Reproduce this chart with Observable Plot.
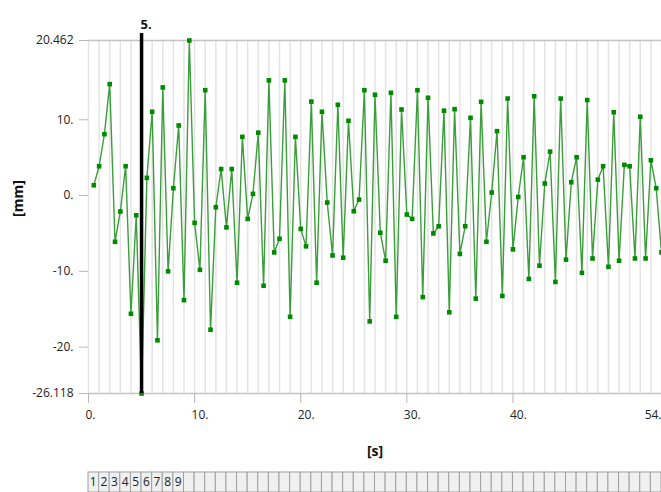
<!DOCTYPE html>
<html><head><meta charset="utf-8">
<script src="https://cdn.jsdelivr.net/npm/d3@7"></script>
<script src="https://cdn.jsdelivr.net/npm/@observablehq/plot@0.6"></script>
<style>body{margin:0;background:#fff} svg{display:block}</style>
</head><body><div id="chart"></div>
<script>
const times = [0.5,1,1.5,2,2.5,3,3.5,4,4.5,5,5.5,6,6.5,7,7.5,8,8.5,9,9.5,10,
10.5,11,11.5,12,12.5,13,13.5,14,14.5,15,15.5,16,16.5,17,17.5,18,18.5,19,19.5,20,
20.5,21,21.5,22,22.5,23,23.5,24,24.5,25,25.5,26,26.5,27,27.5,28,28.5,29,29.5,30,
30.5,31,31.5,32,32.5,33,33.5,34,34.5,35,35.5,36,36.5,37,37.5,38,38.5,39,39.5,40,
40.5,41,41.5,42,42.5,43,43.5,44,44.5,45,45.5,46,46.5,47,47.5,48,48.5,49,49.5,50,
50.5,51,51.5,52,52.5,53,53.5,54];
const values = [1.36,3.87,8.1,14.7,-6.1,-2.1,3.87,-15.6,-2.6,-26.118,
2.34,11.06,-19.1,14.27,-10.0,0.97,9.25,-13.8,20.462,-3.6,
-9.8,13.9,-17.7,-1.54,3.5,-4.2,3.5,-11.5,7.75,-3.08,
0.22,8.3,-11.9,15.2,-7.5,-5.7,15.2,-16.0,7.75,-4.4,
-6.7,12.4,-11.5,11.06,-0.92,-7.9,11.98,-8.2,9.87,-2.07,
-0.53,13.9,-16.6,13.3,-4.9,-8.6,13.56,-16.0,11.36,-2.5,
-3.08,13.9,-13.4,12.9,-5.0,-4.05,11.2,-15.4,11.4,-7.7,
-4.05,10.26,-13.6,12.37,-6.1,0.4,8.5,-13.25,12.8,-7.1,
-0.18,5.06,-11.0,13.1,-9.25,1.59,5.8,-11.4,12.8,-8.45,
1.76,5.06,-10.2,12.6,-8.3,2.1,3.87,-9.4,11.0,-8.6,
4.05,3.87,-8.3,10.4,-8.3,4.66,0.97,-7.5];
const xTicks = [0,10,20,30,40,54];
const yTicks = [-26.118,-20,-10,0,10,20.462];
const gridTimes = [0,1,2,3,4,5,6,7,8,9,10,11,12,13,14,15,16,17,18,19,20,21,22,23,24,25,26,27,
28,29,30,31,32,33,34,35,36,37,38,39,40,41,42,43,44,45,46,47,48,49,50,51,52,53,54];
const stepNumbers = [1,2,3,4,5,6,7,8,9,10,11,12,13,14,15,16,17,18,19,20,21,22,23,24,25,26,27,
28,29,30,31,32,33,34,35,36,37,38,39,40,41,42,43,44,45,46,47,48,49,50,51,52,53,54];
const stepLabels = ["1","2","3","4","5","6","7","8","9"];
const cursorTime = 5;
const cursorLabel = "5.";
const xLabel = "[s]";
const yLabel = "[mm]";

const fmt = d => Number.isInteger(d) ? d + "." : String(d);
const data = times.map((t, i) => ({t, v: values[i]}));
const font = "'Segoe UI','Open Sans','Noto Sans',sans-serif";

const chart = Plot.plot({
  width: 661, height: 492,
  marginLeft: 88, marginRight: 0, marginTop: 40, marginBottom: 99,
  x: {domain: [0, 54]},
  y: {domain: [-26.118, 20.462]},
  style: {fontFamily: font, fontSize: "12px", color: "#222", background: "#fff"},
  marks: [
    Plot.ruleX(gridTimes, {stroke: "#e4e4e4", strokeWidth: 1.5}),
    Plot.ruleY([yTicks[0], yTicks[yTicks.length - 1]], {stroke: "#c4c4c4", strokeWidth: 1.5}),
    Plot.axisY({ticks: yTicks, tickSize: 9, tickPadding: 6, tickFormat: fmt, stroke: "#b8b8b8", fill: "#222", label: null}),
    Plot.axisX({ticks: xTicks, tickSize: 10, tickFormat: () => "", stroke: "#b8b8b8", label: null}),
    Plot.text(xTicks.slice(0, -1), {x: d => d, frameAnchor: "bottom", dy: 25, dx: -3, textAnchor: "start", text: fmt, fill: "#222"}),
    Plot.text(xTicks.slice(-1), {x: d => d, frameAnchor: "bottom", dy: 25, textAnchor: "end", text: fmt, fill: "#222"}),
    Plot.line(data, {x: "t", y: "v", stroke: "#3a9e3a", strokeWidth: 1.4}),
    Plot.dot(data, {x: "t", y: "v", symbol: "square", r: 2.6, fill: "#008a00", stroke: "none"}),
    Plot.ruleX([cursorTime], {stroke: "#000", strokeWidth: 3.5, insetTop: -7}),
    Plot.text([cursorLabel], {x: cursorTime, frameAnchor: "top", dy: -21, dx: -1, textAnchor: "start", text: d => d, fontWeight: "bold", fontSize: 13, fill: "#111"}),
    Plot.text([xLabel], {frameAnchor: "bottom", dy: 62, text: d => d, fontWeight: "bold", fontSize: 14, fill: "#111"}),
    Plot.text([yLabel], {frameAnchor: "left", dx: -70, rotate: -90, text: d => d, fontWeight: "bold", fontSize: 14, fill: "#111"})
  ]
});

// time-step strip below the axis, positioned through the plot's x scale
const sx = chart.scale("x");
const svg = d3.select(chart);
const g = svg.append("g").attr("font-family", font).attr("font-size", 12);
const stripTop = 472, stripBottom = 492;
stepNumbers.forEach((n, i) => {
  const x1 = sx.apply(n - 1), x2 = sx.apply(n);
  g.append("rect").attr("x", x1).attr("y", stripTop).attr("width", x2 - x1).attr("height", stripBottom - stripTop)
    .attr("fill", "#f0f0f0").attr("stroke", "#a0a0a0").attr("stroke-width", 1);
  if (i < stepLabels.length) {
    g.append("text").attr("x", (x1 + x2) / 2).attr("y", (stripTop + stripBottom) / 2 + 1)
      .attr("text-anchor", "middle").attr("dominant-baseline", "middle").attr("fill", "#222").text(stepLabels[i]);
  }
});
document.getElementById("chart").appendChild(chart);
</script>
</body></html>
